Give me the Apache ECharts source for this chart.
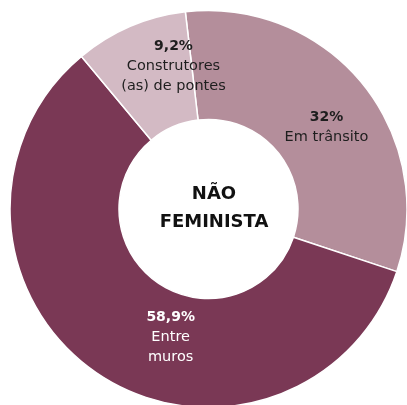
<!DOCTYPE html>
<html>
<head>
<meta charset="utf-8">
<script src="https://cdn.jsdelivr.net/npm/echarts@6/dist/echarts.min.js"></script>
<style>
  html, body { margin: 0; padding: 0; background: #fff; }
  #chart { width: 407px; height: 405px; }
</style>
</head>
<body>
<div id="chart"></div>
<script>
// Profile shares within the "não feminista" group
const categories = ['Em trânsito', 'Entre\nmuros', 'Construtores\n(as) de pontes'];
const values = [32, 58.9, 9.2];
const valueLabels = ['32%', '58,9%', '9,2%'];
const colors = ['#b48e9b', '#7a3855', '#d3bac4'];
const labelColors = ['#1e1e1e', '#ffffff', '#1e1e1e'];
const labelOffsets = [[4, 11], [45, 7], [23, -8]];
const centerTitle = 'NÃO\nFEMINISTA';

const FONT = '"DejaVu Sans", "Noto Sans", sans-serif';

const chart = echarts.init(document.getElementById('chart'), null, { renderer: 'canvas' });

const data = categories.map((name, i) => ({
  name,
  value: values[i],
  itemStyle: { color: colors[i] },
  label: {
    offset: labelOffsets[i],
    rich: {
      p: { fontFamily: FONT, fontWeight: 'bold', fontSize: 14, color: labelColors[i], lineHeight: 20, align: 'center' },
      n: { fontFamily: FONT, fontSize: 14.5, color: labelColors[i], lineHeight: 20, align: 'center' }
    }
  }
}));

chart.setOption({
  animation: false,
  series: [{
    type: 'pie',
    center: [208.5, 209],
    radius: [89.5, 198.5],
    startAngle: 96.7,
    clockwise: true,
    avoidLabelOverlap: false,
    itemStyle: { borderColor: '#ffffff', borderWidth: 1.5 },
    label: {
      show: true,
      position: 'inside',
      formatter: (p) => {
        const names = p.name.split('\n').map(s => '{n|' + s + '}').join('\n');
        return '{p|' + valueLabels[p.dataIndex] + '}\n' + names;
      }
    },
    labelLine: { show: false },
    emphasis: { disabled: true },
    data
  }],
  graphic: [{
    type: 'text',
    x: 214,
    y: 180,
    style: {
      text: centerTitle,
      textAlign: 'center',
      textVerticalAlign: 'top',
      fontFamily: FONT,
      fontWeight: 'bold',
      fontSize: 18,
      lineHeight: 28,
      fill: '#111111'
    }
  }]
});
</script>
</body>
</html>
